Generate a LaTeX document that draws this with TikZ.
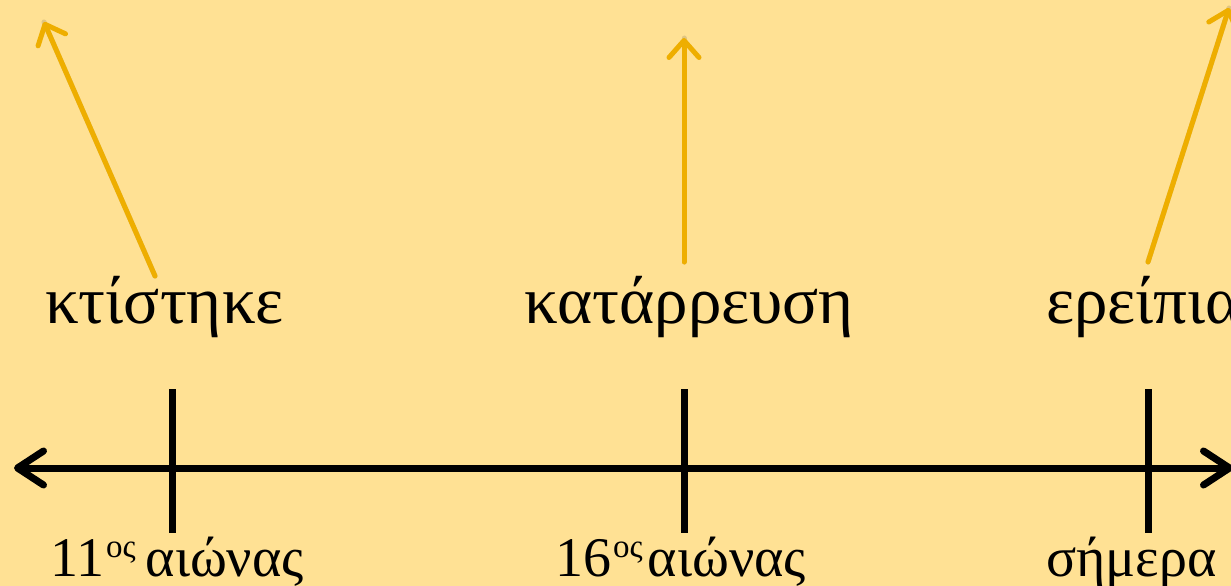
\documentclass[tikz,border=0pt]{standalone}
\usepackage{fontspec}
\setmainfont{Liberation Serif}
\usetikzlibrary{arrows.meta}
\definecolor{bg}{HTML}{FFE194}
\definecolor{gold}{HTML}{EEAE00}
\newcommand{\supos}{\raisebox{19pt}{\fontsize{33}{35}\selectfont ος}}
\tikzset{
  axis/.style={line width=7pt, line cap=butt},
  tick/.style={line width=7pt},
  pointer/.style={line width=5pt, gold, line cap=round,
    -{Straight Barb[round, length=17pt, width=30pt, line width=5pt]}},
  shadowline/.style={black, opacity=0.12},
  toplabel/.style={anchor=base west, inner sep=0pt, font=\fontsize{67}{70}\selectfont},
  botlabel/.style={anchor=base west, inner sep=0pt, font=\fontsize{56}{58}\selectfont},
}
\begin{document}
\begin{tikzpicture}[x=1pt,y=-1pt]
\useasboundingbox (0,0) rectangle (1231,586);
\fill[bg] (0,0) rectangle (1231,586);
% coordinates
\coordinate (L) at (14,468);
\coordinate (R) at (1233,468);
\coordinate (t1a) at (172,389); \coordinate (t1b) at (172,533);
\coordinate (t2a) at (684,389); \coordinate (t2b) at (684,533);
\coordinate (t3a) at (1148,389); \coordinate (t3b) at (1148,533);
\coordinate (p1s) at (155,276); \coordinate (p1e) at (44,22);
\coordinate (p2s) at (684,262); \coordinate (p2e) at (684,38);
\coordinate (p3s) at (1148,262); \coordinate (p3e) at (1229,8);
% shadows
\begin{scope}[shift={(2,3)}]
\draw[shadowline, line width=7pt, {Straight Barb[round, length=26pt, width=34pt, line width=7pt]}-{Straight Barb[round, length=26pt, width=34pt, line width=7pt]}] (L) -- (R);
\draw[shadowline, tick] (t1a) -- (t1b);
\draw[shadowline, tick] (t2a) -- (t2b);
\draw[shadowline, tick] (t3a) -- (t3b);
\draw[shadowline, line width=5pt, line cap=round] (p1s) -- (p1e);
\draw[shadowline, line width=5pt, line cap=round] (p2s) -- (p2e);
\draw[shadowline, line width=5pt, line cap=round] (p3s) -- (p3e);
\end{scope}
% timeline
\draw[axis, {Straight Barb[round, length=26pt, width=34pt, line width=7pt]}-{Straight Barb[round, length=26pt, width=34pt, line width=7pt]}] (L) -- (R);
\draw[tick] (t1a) -- (t1b);
\draw[tick] (t2a) -- (t2b);
\draw[tick] (t3a) -- (t3b);
% pointers
\draw[pointer] (p1s) -- (p1e);
\draw[pointer] (p2s) -- (p2e);
\draw[pointer] (p3s) -- (p3e);
% labels
\node[toplabel] (k1) at (45,323) {κτίστηκε};
\node[toplabel] (k2) at (524,323) {κατάρρευση};
\node[toplabel] (k3) at (1046,323) {ερείπια};
\node[botlabel] (b1) at (50,576) {11\hspace{2pt}\supos\hspace{10pt}αιώνας};
\node[botlabel] (b2) at (555,576) {16\hspace{2pt}\supos\hspace{5pt}αιώνας};
\node[botlabel] (b3) at (1046,576) {σήμερα};
\end{tikzpicture}
\end{document}
